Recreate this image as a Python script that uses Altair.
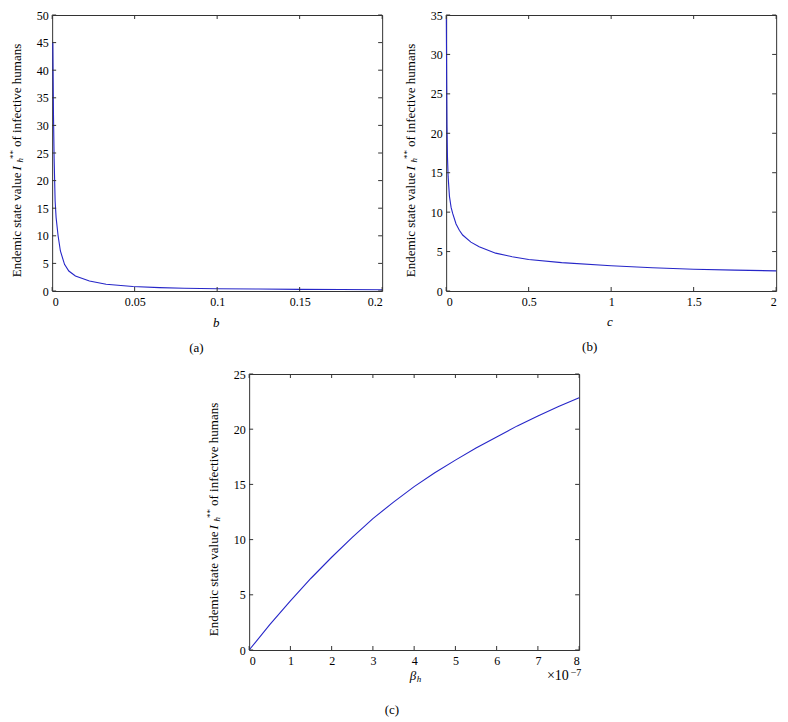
import altair as alt
import pandas as pd

# ---- panel (a): I_h** vs b ----
a_x = [0.0004, 0.0008, 0.0012, 0.0018, 0.0024, 0.0036, 0.0050, 0.0075, 0.0101, 0.0141,
       0.0226, 0.0327, 0.0489, 0.065, 0.08, 0.1, 0.125, 0.15, 0.175, 0.2]
a_y = [45.0, 32.0, 24.0, 16.3, 13.3, 10.0, 7.25, 4.83, 3.62, 2.72,
       1.81, 1.21, 0.82, 0.62, 0.51, 0.42, 0.35, 0.30, 0.27, 0.24]
a_xticks = [0, 0.05, 0.1, 0.15, 0.2]
a_yticks = [0, 5, 10, 15, 20, 25, 30, 35, 40, 45, 50]

# ---- panel (b): I_h** vs c ----
b_x = [0.001, 0.003, 0.005, 0.008, 0.012, 0.02, 0.03, 0.04, 0.06, 0.08, 0.1, 0.15, 0.2,
       0.3, 0.4, 0.5, 0.7, 1.0, 1.25, 1.5, 1.75, 2.0]
b_y = [34.5, 27.0, 21.0, 17.0, 14.5, 12.0, 10.6, 9.8, 8.5, 7.7, 7.1, 6.2, 5.6,
       4.8, 4.35, 4.0, 3.6, 3.2, 2.95, 2.75, 2.65, 2.55]
b_xticks = [0, 0.5, 1, 1.5, 2]
b_yticks = [0, 5, 10, 15, 20, 25, 30, 35]

# ---- panel (c): I_h** vs beta_h (x 1e-7) ----
c_x = [0, 0.5, 1, 1.5, 2, 2.5, 3, 3.5, 4, 4.5, 5, 5.5, 6, 6.5, 7, 7.5, 8]
c_y = [0, 2.3, 4.45, 6.5, 8.4, 10.2, 11.9, 13.4, 14.8, 16.05, 17.2, 18.3, 19.3,
       20.3, 21.2, 22.05, 22.85]
c_xticks = [0, 1, 2, 3, 4, 5, 6, 7, 8]
c_yticks = [0, 5, 10, 15, 20, 25]

W, H = 330, 276
TL = 4
FONT = "'Liberation Serif', 'Times New Roman', 'DejaVu Serif', serif"
LINE = "#2626c8"
FRAME = "#333333"


def txt(s, x, y, size=13, align="left", baseline="alphabetic", angle=0, style="normal"):
    kw = dict(font=FONT, fontSize=size, align=align, baseline=baseline,
              fontStyle=style, color="black")
    if angle:
        kw["angle"] = angle
    return alt.Chart(pd.DataFrame({"t": [s]})).mark_text(**kw).encode(
        text="t:N", x=alt.value(x), y=alt.value(y))


def panel(xs, ys, xt, yt, xdom, ydom, xlabel_layers, caption, cap_dx, cap_dy):
    xsc = alt.Scale(domain=xdom, nice=False, zero=False)
    ysc = alt.Scale(domain=ydom, nice=False, zero=False)
    xax = alt.Axis(values=xt, format="~g", title=None)
    yax = alt.Axis(values=yt, format="~g", title=None)
    line = alt.Chart(pd.DataFrame({"x": xs, "y": ys})).mark_line(
        color=LINE, strokeWidth=1.1).encode(
        x=alt.X("x:Q", scale=xsc, axis=xax),
        y=alt.Y("y:Q", scale=ysc, axis=yax),
    )
    xtd = pd.DataFrame({"x": xt})
    ytd = pd.DataFrame({"y": yt})
    tb = alt.Chart(xtd).mark_rule(color=FRAME).encode(
        x=alt.X("x:Q", scale=xsc, axis=xax), y=alt.value(H - TL), y2=alt.value(H))
    tt = alt.Chart(xtd).mark_rule(color=FRAME).encode(
        x=alt.X("x:Q", scale=xsc, axis=xax), y=alt.value(0), y2=alt.value(TL))
    tl = alt.Chart(ytd).mark_rule(color=FRAME).encode(
        y=alt.Y("y:Q", scale=ysc, axis=yax), x=alt.value(0), x2=alt.value(TL))
    tr = alt.Chart(ytd).mark_rule(color=FRAME).encode(
        y=alt.Y("y:Q", scale=ysc, axis=yax), x=alt.value(W - TL), x2=alt.value(W))
    ytitle = [
        txt("Endemic state value", -31, 157.5, align="right", angle=270),
        txt("I", -31, 155.5, angle=270, style="italic"),
        txt("h", -29, 147.5, size=9, angle=270, style="italic"),
        txt("**", -36, 144, size=9, angle=270),
        txt("of infective humans", -31, 132, angle=270),
    ]
    cap = txt(caption, cap_dx, H + cap_dy, align="center", baseline="middle")
    return alt.layer(line, tb, tt, tl, tr, *ytitle, *xlabel_layers, cap).properties(
        width=W, height=H)


pa = panel(a_x, a_y, a_xticks, a_yticks, [0, 0.2], [0, 50],
           [txt("b", 164, H + 35.5, style="italic", align="center")], "(a)", 144.3, 56.7)
pb = panel(b_x, b_y, b_xticks, b_yticks, [0, 2], [0, 35],
           [txt("c", 163.7, H + 35, style="italic", align="center")], "(b)", 143.5, 56)
pc = panel(c_x, c_y, c_xticks, c_yticks, [0, 8], [0, 25],
           [txt("β", 167, H + 29.5, style="italic", align="right"),
            txt("h", 167.5, H + 32, size=9, style="italic"),
            txt("×10", 319.7, H + 29.5, size=14, align="right"),
            txt("−7", 321.5, H + 25.5, size=10)],
           "(c)", 142.7, 60)

top = alt.hconcat(pa, pb, spacing=17)
chart = alt.vconcat(top, pc, spacing=11, center=True).properties(
    padding={"left": 0, "top": 0, "right": 0, "bottom": 0}
).configure_view(stroke=FRAME, strokeWidth=1).configure_axis(
    labelFont=FONT, labelFontSize=12, labelColor="black", ticks=False, domain=False,
    grid=False,
).configure_axisY(labelPadding=4).configure_axisX(labelPadding=5)

chart.save("out.html", embed_options={"renderer": "svg", "actions": False})
